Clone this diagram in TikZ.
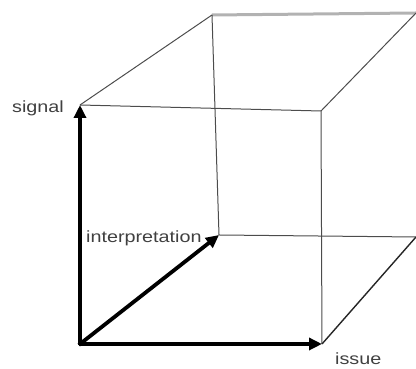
\documentclass[tikz,border=0pt]{standalone}
\usepackage{fontspec}
\newfontfamily\lblfont[FakeStretch=1.22]{Liberation Sans}
\usetikzlibrary{arrows.meta}
\begin{document}
\begin{tikzpicture}[x=1pt,y=1pt,
  thin edge/.style={draw=black!70, line width=1pt},
  back top/.style={draw=black!30, line width=3pt},
  axis/.style={draw=black, line width=3.8pt, -{Triangle[length=13pt,width=12pt]}, shorten <=-1.5pt},
  lbl/.style={font=\lblfont\fontsize{16.2}{18}\selectfont, text=black!75, inner sep=0pt}]
\useasboundingbox (0,0) rectangle (416,369);
% corners
\coordinate (O) at (80,25);
\coordinate (S) at (80,264);
\coordinate (I) at (322,25);
\coordinate (P) at (219,134);
\coordinate (FTR) at (321,258);
\coordinate (BTL) at (212,354);
\coordinate (BTR) at (416,356);
\coordinate (BBR) at (416,132);
% cube edges
\draw[back top] (BTL) -- (BTR);
\draw[thin edge] (S) -- (BTL);
\draw[thin edge] (S) -- (FTR);
\draw[thin edge] (FTR) -- (BTR);
\draw[thin edge] (BTL) -- (P);
\draw[thin edge] (FTR) -- (I);
\draw[thin edge] (P) -- (BBR);
\draw[draw=black!85, line width=1.4pt] (I) -- (BBR);
% axes
\draw[axis] (O) -- (S);
\draw[axis] (O) -- (P);
\draw[axis] (O) -- (I);
% labels
\node[lbl, anchor=base east] (lsig) at (64,256) {signal};
\node[lbl, anchor=base west] (lint) at (86,126) {interpretation};
\node[lbl, anchor=base west] (liss) at (335,4) {issue};
\end{tikzpicture}
\end{document}
